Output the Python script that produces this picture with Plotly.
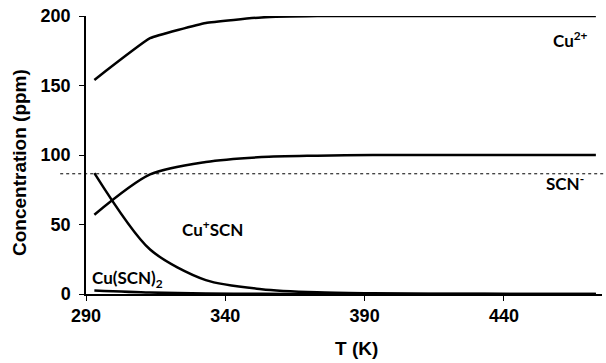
import plotly.graph_objects as go

T = [293, 313, 333, 353, 373, 393, 413, 433, 453, 473]
cu2 = [154, 184, 195, 199, 200, 200, 200, 200, 200, 200]
scn = [57, 86, 95, 98.5, 99.5, 100, 100, 100, 100, 100]
cuscn = [87, 32, 10, 3.5, 1.2, 0.5, 0.2, 0.1, 0, 0]
cuscn2 = [2.5, 1.0, 0.4, 0.1, 0, 0, 0, 0, 0, 0]
scn_level = 86.5

x_ticks = [290, 340, 390, 440]
y_ticks = [0, 50, 100, 150, 200]

fig = go.Figure()
fig.add_trace(go.Scatter(x=T, y=cu2, mode="lines", line=dict(color="black", width=2.5, shape="spline", smoothing=0.3)))
fig.add_trace(go.Scatter(x=T, y=scn, mode="lines", line=dict(color="black", width=2.5, shape="spline", smoothing=0.8)))
fig.add_trace(go.Scatter(x=T, y=cuscn, mode="lines", line=dict(color="black", width=2.5, shape="spline", smoothing=0.8)))
fig.add_trace(go.Scatter(x=T, y=cuscn2, mode="lines", line=dict(color="black", width=2.5, shape="spline", smoothing=0.8)))

fig.add_shape(type="line", xref="paper", yref="y", x0=-0.05, x1=1.01, y0=scn_level, y1=scn_level,
              line=dict(color="black", width=1, dash="dot"))

afont = dict(family="Lato, Liberation Sans, sans-serif", size=17, color="black", weight="bold")
fig.add_annotation(x=464, y=183, text="Cu<sup>2+</sup>", showarrow=False, font=afont)
fig.add_annotation(x=462, y=80, text="SCN<sup>-</sup>", showarrow=False, font=afont)
fig.add_annotation(x=335.5, y=47, text="Cu<sup>+</sup>SCN", showarrow=False, font=afont)
fig.add_annotation(x=305, y=10.5, text="Cu(SCN)<sub>2</sub>", showarrow=False, font=afont)

tfont = dict(family="Liberation Sans, Arial, sans-serif", size=19, color="black", weight="bold")
fig.add_annotation(xref="paper", yref="paper", x=(356 - 86) / 516, y=-(348 - 294) / 278,
                   xanchor="center", yanchor="middle",
                   text="T (K)", showarrow=False, font=tfont)
fig.add_annotation(xref="paper", yref="paper", x=-(86 - 19) / 516, y=(294 - 163) / 278, textangle=-90,
                   xanchor="center", yanchor="middle",
                   text="Concentration (ppm)", showarrow=False, font=tfont)

tick_font = dict(family="Liberation Sans, Arial, sans-serif", size=18, color="black", weight="bold")
fig.update_xaxes(range=[290, 475.2], tickvals=x_ticks,
                 showline=True, linecolor="black", linewidth=1.5, ticks="outside", ticklen=5,
                 tickcolor="black", showgrid=False, zeroline=False, tickfont=tick_font, automargin=False)
fig.update_yaxes(range=[0, 200], tickvals=y_ticks, ticklabelstandoff=5,
                 showline=True, linecolor="black", linewidth=1.5, ticks="outside", ticklen=5,
                 tickcolor="black", showgrid=False, zeroline=False, tickfont=tick_font, automargin=False)

fig.update_layout(width=606, height=363, margin=dict(l=86, r=4, t=16, b=69),
                  plot_bgcolor="white", paper_bgcolor="white", showlegend=False)

fig.write_html("out.html", config={"displayModeBar": False},
               post_script="document.body.style.margin='0';document.body.style.overflow='hidden';")
